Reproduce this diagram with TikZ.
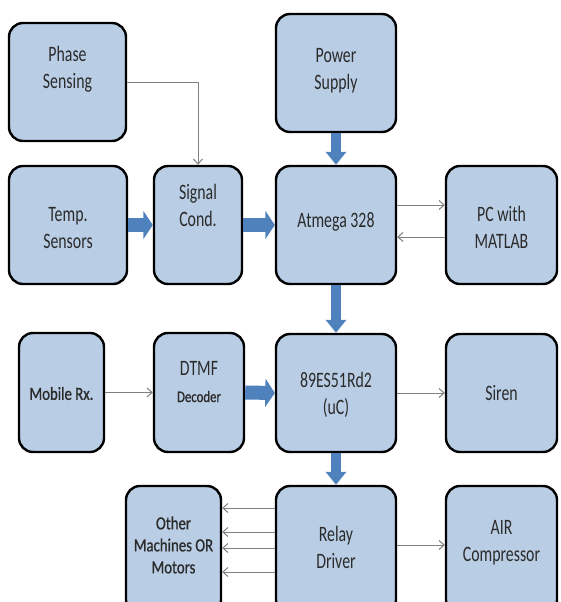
\documentclass[tikz,border=0pt]{standalone}
\usepackage{fontspec}
\newfontfamily\boxfont[FakeStretch=0.72]{Carlito}
\newfontfamily\smallfont[FakeStretch=0.8,FakeBold=0.8]{Carlito}
\usetikzlibrary{arrows.meta}
\definecolor{boxfill}{HTML}{B9CDE5}
\definecolor{blockblue}{HTML}{4F81BD}
\definecolor{wire}{HTML}{808080}
\definecolor{ink}{HTML}{2B2B2B}
\begin{document}
\begin{tikzpicture}[x=1pt,y=-1pt,
  box/.style={draw=black, line width=2.4pt, rounded corners=14pt, fill=boxfill, inner sep=0pt},
  txt/.style={align=center, text=ink, inner sep=0pt, font=\boxfont\fontsize{22pt}{27pt}\selectfont},
  smalltxt/.style={align=center, text=ink, inner sep=0pt, font=\smallfont\fontsize{18.5pt}{22pt}\selectfont},
  hbig/.style={draw=blockblue, line width=14pt, -{Triangle[length=9.5pt,width=28pt]}},
  vbig/.style={draw=blockblue, line width=10pt, -{Triangle[length=13pt,width=20pt]}},
  wirearrow/.style={draw=wire, line width=1pt, -{Straight Barb[length=5pt,width=9pt]}},
]
\useasboundingbox (0,0) rectangle (560,602);
\fill[white] (0,0) rectangle (560,602);
\clip (0,0) rectangle (560,602);

% first row
\node[box, minimum width=117pt, minimum height=118pt,
  label={[txt,yshift=13pt]center:Phase\\Sensing}] (phase) at (67.5,82) {};
\node[box, minimum width=120pt, minimum height=118pt,
  label={[txt,yshift=2pt]center:Power\\Supply}] (power) at (336,73) {};

% second row
\node[box, minimum width=118pt, minimum height=118pt,
  label={[txt,yshift=-3pt]center:Temp.\\Sensors}] (temp) at (68,225) {};
\node[box, minimum width=88pt, minimum height=118pt,
  label={[txt,yshift=20pt]center:Signal\\Cond.}] (sig) at (198,225) {};
\node[box, minimum width=120pt, minimum height=118pt,
  label={[txt,yshift=3pt]center:Atmega 328}] (atm) at (336,225) {};
\node[box, minimum width=111pt, minimum height=118pt,
  label={[txt,yshift=-2pt]center:PC with\\MATLAB}] (pc) at (501.5,225) {};

% third row
\node[box, minimum width=85pt, minimum height=119pt,
  label={[smalltxt,yshift=-1pt]center:Mobile Rx.}] (mob) at (61.5,392.5) {};
\node[box, minimum width=90pt, minimum height=119pt,
  label={[txt,yshift=11pt]center:DTMF\\{\smallfont\fontsize{16pt}{18pt}\selectfont Decoder}}] (dtmf) at (199,392.5) {};
\node[box, minimum width=120pt, minimum height=118pt,
  label={[txt,yshift=-2pt]center:89ES51Rd2\\(uC)}] (u) at (336,393) {};
\node[box, minimum width=111pt, minimum height=118pt,
  label={[txt]center:Siren}] (siren) at (501.5,393) {};

% fourth row (runs past the lower edge)
\node[box, minimum width=95pt, minimum height=128pt,
  label={[smalltxt,yshift=5pt]center:Other\\Machines OR\\Motors}] (other) at (173.5,550) {};
\node[box, minimum width=120pt, minimum height=128pt,
  label={[txt,yshift=3pt]center:Relay\\Driver}] (relay) at (336,550) {};
\node[box, minimum width=111pt, minimum height=128pt,
  label={[txt,yshift=7pt]center:AIR\\Compressor}] (air) at (501.5,550) {};

% thick block arrows
\draw[hbig] (temp.east) -- (sig.west);
\draw[hbig] (sig.east) -- (atm.west);
\draw[hbig] (dtmf.east) -- (u.west);
\draw[vbig] (power.south) -- (atm.north);
\draw[vbig] (atm.south) -- (u.north);
\draw[vbig] (u.south) -- (relay.north);

% thin signal lines
\draw[wirearrow] (phase.east) -| (sig.north);
\draw[wirearrow] ([yshift=20pt]atm.east) -- ([yshift=20pt]pc.west);
\draw[wirearrow] ([yshift=-12pt]pc.west) -- ([yshift=-12pt]atm.east);
\draw[wirearrow] (mob.east) -- (dtmf.west);
\draw[wirearrow] (u.east) -- (siren.west);
\draw[wirearrow] ([yshift=5pt]relay.east) -- ([yshift=5pt]air.west);
\foreach \dy in {42,18,2,-22}
  \draw[wirearrow] ([yshift=\dy pt]relay.west) -- ([yshift=\dy pt]other.east);
\end{tikzpicture}
\end{document}
